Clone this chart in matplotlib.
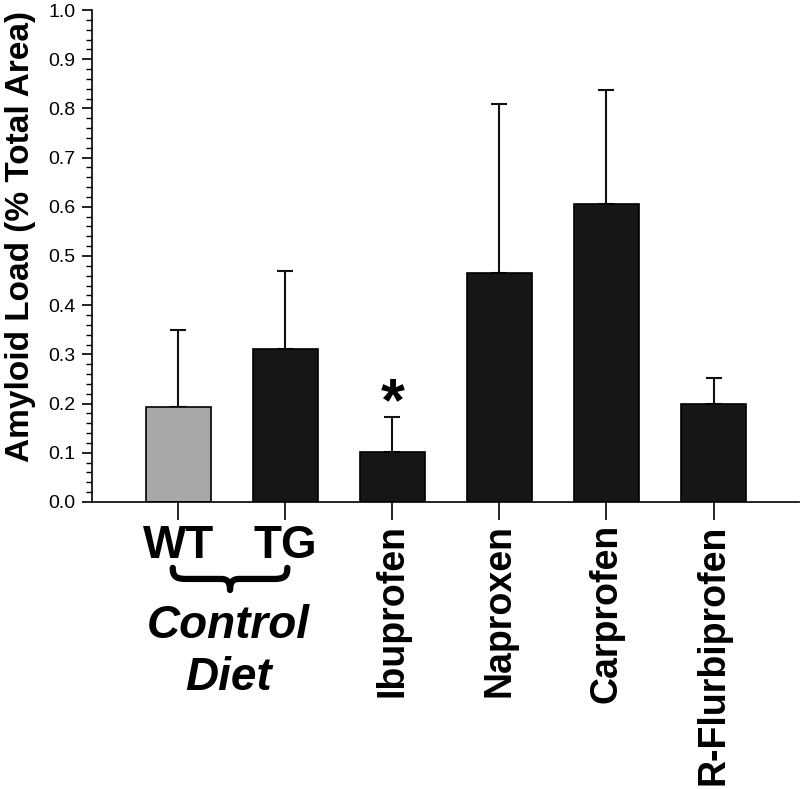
"""
    Amyloid load by diet group
"""

from matplotlib import pyplot as plt
from matplotlib.path import Path
from matplotlib.patches import PathPatch
from matplotlib.ticker import MultipleLocator

plt.rcParams['font.family'] = ['Liberation Sans', 'DejaVu Sans']

groups = ["WT", "TG", "Ibuprofen", "Naproxen", "Carprofen", "R-Flurbiprofen"]
amyloid_mean = [0.193, 0.311, 0.102, 0.465, 0.606, 0.199]
amyloid_err = [0.157, 0.159, 0.071, 0.344, 0.231, 0.053]
bar_colors = ["#a8a8a8", "#161616", "#161616", "#161616", "#161616", "#161616"]
significant = [False, False, True, False, False, False]


def draw_brace(ax, x0, x1, y_top, height):
    # curly brace pointing down, x in data, y in axes fraction
    u = [0, 0, 0.03, 0.12, 0.42, 0.47, 0.5, 0.5, 0.5, 0.53, 0.58, 0.88, 0.97, 1, 1]
    v = [0, 0.4, 0.5, 0.5, 0.5, 0.5, 0.6, 1.0, 0.6, 0.5, 0.5, 0.5, 0.5, 0.4, 0]
    codes = [Path.MOVETO, Path.CURVE4, Path.CURVE4, Path.CURVE4, Path.LINETO,
             Path.CURVE4, Path.CURVE4, Path.CURVE4, Path.CURVE4, Path.CURVE4,
             Path.CURVE4, Path.LINETO, Path.CURVE4, Path.CURVE4, Path.CURVE4]
    verts = [(x0 + (x1 - x0) * a, y_top - height * b) for a, b in zip(u, v)]
    patch = PathPatch(Path(verts, codes), facecolor="none", edgecolor="black",
                      lw=4.5, capstyle="round", joinstyle="round",
                      transform=ax.get_xaxis_transform(), clip_on=False)
    ax.add_patch(patch)


def draw_fig():
    fig = plt.figure(figsize=(8, 7.89), dpi=100)
    ax = fig.add_axes([0.115, 0.3638, 0.884, 0.6235])

    x = list(range(len(groups)))
    ax.bar(x, amyloid_mean, width=0.607, color=bar_colors, edgecolor="black",
           linewidth=1.2, zorder=2)
    ax.errorbar(x, amyloid_mean, yerr=[[0] * len(x), amyloid_err], fmt="none",
                ecolor="#111111", elinewidth=1.5, capsize=5.5, capthick=1.5, zorder=1)

    for xi, m, e, s in zip(x, amyloid_mean, amyloid_err, significant):
        if s:
            ax.text(xi, m + e + 0.024, "*", ha="center", va="center",
                    fontsize=44, fontweight="bold")

    ax.set_xlim(-0.804, 5.8)
    ax.set_ylim(0, 1.0)
    ax.yaxis.set_major_locator(MultipleLocator(0.1))
    ax.yaxis.set_minor_locator(MultipleLocator(0.02))
    ax.set_yticklabels([f"{t:.1f}" for t in ax.get_yticks()])
    ax.tick_params(axis="y", which="major", direction="out", length=7, width=1.2,
                   labelsize=14, pad=5)
    ax.tick_params(axis="y", which="minor", direction="out", length=4, width=1.0)

    ax.set_xticks(x)
    ax.set_xticklabels(groups)
    ax.tick_params(axis="x", direction="out", length=13, width=1.2, pad=3)
    for i, lbl in enumerate(ax.get_xticklabels()):
        lbl.set_fontweight("bold")
        if i < 2:
            lbl.set_fontsize(33)
        else:
            lbl.set_fontsize(27)
            lbl.set_rotation(90)

    for side in ["top", "right"]:
        ax.spines[side].set_visible(False)
    for side in ["left", "bottom"]:
        ax.spines[side].set_linewidth(1.2)

    draw_brace(ax, -0.05, 1.02, -0.134, 0.045)
    ax.text(0.47, -0.252, "Control", transform=ax.get_xaxis_transform(),
            ha="center", va="center", fontsize=33, fontweight="bold", style="italic")
    ax.text(0.47, -0.357, "Diet", transform=ax.get_xaxis_transform(),
            ha="center", va="center", fontsize=33, fontweight="bold", style="italic")

    fig.text(0.026, 0.70, "Amyloid Load (% Total Area)", rotation=90,
             ha="center", va="center", fontsize=24, fontweight="bold")

    plt.savefig("out.png", dpi=100)


if __name__ == "__main__":
    draw_fig()
